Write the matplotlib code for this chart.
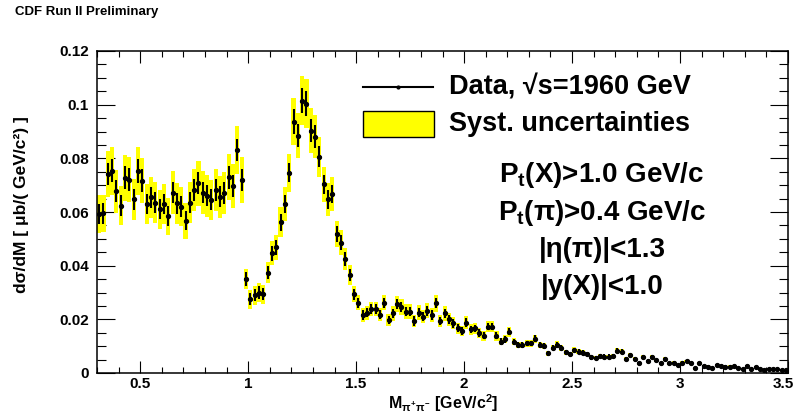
import numpy as np
import matplotlib
matplotlib.use("Agg")
import matplotlib.pyplot as plt
from matplotlib.lines import Line2D
from matplotlib.patches import Rectangle
from matplotlib.transforms import ScaledTranslation

plt.rcParams['font.family'] = ['Liberation Sans', 'DejaVu Sans']
plt.rcParams['font.weight'] = 'bold'
plt.rcParams['mathtext.fontset'] = 'custom'
plt.rcParams['mathtext.rm'] = 'Liberation Sans:bold'
plt.rcParams['mathtext.it'] = 'Liberation Sans:bold'
plt.rcParams['mathtext.bf'] = 'Liberation Sans:bold'
plt.rcParams['mathtext.sf'] = 'Liberation Sans:bold'

# Histogram binning (GeV/c^2)
mass_lo, mass_hi, n_bins = 0.30, 3.50, 160

# d sigma / dM values [ub/(GeV/c^2)]
xsec = [
    # 0.31 - 0.97
    0.0593, 0.0595, 0.0742, 0.0753, 0.0678, 0.0624, 0.0728, 0.0721, 0.0647, 0.0753,
    0.0717, 0.0629, 0.0655, 0.0635, 0.0610, 0.0629, 0.0585, 0.0672, 0.0632, 0.0620,
    0.0567, 0.0635, 0.0682, 0.0707, 0.0672, 0.0661, 0.0645, 0.0682, 0.0657, 0.0670,
    0.0729, 0.0697, 0.0831, 0.0719,
    # 0.99 - 1.65
    0.0350, 0.0275, 0.0290, 0.0300, 0.0293, 0.0374, 0.0446, 0.0468, 0.0562, 0.0630,
    0.0747, 0.0937, 0.0885, 0.1015, 0.1003, 0.0903, 0.0881, 0.0806, 0.0703, 0.0647,
    0.0666, 0.0518, 0.0486, 0.0425, 0.0365, 0.0293, 0.0261, 0.0216, 0.0225, 0.0239,
    0.0238, 0.0218, 0.0262, 0.0197,
    # 1.67 - 2.43
    0.0222, 0.0257, 0.0247, 0.0229, 0.0229, 0.0194, 0.0225, 0.0210, 0.0232, 0.0216,
    0.0260, 0.0194, 0.0222, 0.0200, 0.0185, 0.0166, 0.0158, 0.0188, 0.0163, 0.0166,
    0.0150, 0.0138, 0.0173, 0.0173, 0.0138, 0.0117, 0.0125, 0.0154, 0.0117, 0.0104,
    0.0104, 0.0110, 0.0110, 0.0128, 0.0104, 0.0100, 0.0074, 0.0095, 0.0105,
    # 2.45 - 3.49
    0.0094, 0.0077, 0.0071, 0.0086, 0.0080, 0.0076, 0.0071, 0.0058, 0.0055, 0.0063,
    0.0061, 0.0061, 0.0063, 0.0083, 0.0080, 0.0052, 0.0067, 0.0052, 0.0036, 0.0061,
    0.0045, 0.0061, 0.0048, 0.0036, 0.0052, 0.0036, 0.0039, 0.0030, 0.0039, 0.0045,
    0.0036, 0.0017, 0.0036, 0.0026, 0.0024, 0.0020, 0.0030, 0.0027, 0.0024, 0.0024,
    0.0026, 0.0017, 0.0015, 0.0027, 0.0015, 0.0021, 0.0014, 0.0011, 0.0014, 0.0014,
    0.0014, 0.0011, 0.0011,
]

stat_err = [
    0.0038, 0.0038, 0.0042, 0.0043, 0.0040, 0.0038, 0.0042, 0.0042, 0.0039, 0.0045,
    0.0042, 0.0038, 0.0039, 0.0038, 0.0037, 0.0038, 0.0036, 0.0040, 0.0038, 0.0038,
    0.0035, 0.0038, 0.0040, 0.0041, 0.0040, 0.0039, 0.0039, 0.0040, 0.0039, 0.0040,
    0.0042, 0.0041, 0.0042, 0.0040,
    0.0025, 0.0022, 0.0022, 0.0023, 0.0022, 0.0025, 0.0028, 0.0028, 0.0032, 0.0034,
    0.0037, 0.0045, 0.0042, 0.0047, 0.0047, 0.0043, 0.0042, 0.0040, 0.0036, 0.0034,
    0.0034, 0.0028, 0.0027, 0.0025, 0.0023, 0.0020, 0.0019, 0.0017, 0.0017, 0.0018,
    0.0018, 0.0017, 0.0019, 0.0016,
    0.0018, 0.0019, 0.0019, 0.0018, 0.0018, 0.0017, 0.0018, 0.0017, 0.0018, 0.0017,
    0.0019, 0.0016, 0.0017, 0.0016, 0.0016, 0.0015, 0.0015, 0.0016, 0.0014, 0.0014,
    0.0014, 0.0013, 0.0014, 0.0014, 0.0013, 0.0012, 0.0012, 0.0013, 0.0011, 0.0011,
    0.0011, 0.0011, 0.0011, 0.0012, 0.0010, 0.0010, 0.0009, 0.0010, 0.0010,
    0.0010, 0.0009, 0.0009, 0.0009, 0.0009, 0.0009, 0.0008, 0.0008, 0.0008, 0.0008,
    0.0008, 0.0008, 0.0008, 0.0009, 0.0009, 0.0007, 0.0008, 0.0007, 0.0006, 0.0007,
    0.0006, 0.0007, 0.0006, 0.0006, 0.0006, 0.0005, 0.0005, 0.0005, 0.0005, 0.0005,
    0.0005, 0.0004, 0.0005, 0.0004, 0.0004, 0.0004, 0.0004, 0.0004, 0.0004, 0.0004,
    0.0004, 0.0003, 0.0003, 0.0004, 0.0003, 0.0003, 0.0003, 0.0003, 0.0003, 0.0003,
    0.0003, 0.0003, 0.0003,
]

syst_err = [
    0.0070, 0.0070, 0.0087, 0.0089, 0.0080, 0.0074, 0.0086, 0.0085, 0.0076, 0.0089,
    0.0084, 0.0074, 0.0077, 0.0075, 0.0072, 0.0074, 0.0069, 0.0079, 0.0075, 0.0073,
    0.0067, 0.0075, 0.0080, 0.0083, 0.0079, 0.0078, 0.0076, 0.0080, 0.0078, 0.0079,
    0.0086, 0.0082, 0.0090, 0.0085,
    0.0038, 0.0036, 0.0035, 0.0035, 0.0035, 0.0038, 0.0045, 0.0048, 0.0055, 0.0062,
    0.0071, 0.0088, 0.0084, 0.0092, 0.0091, 0.0083, 0.0081, 0.0075, 0.0066, 0.0062,
    0.0063, 0.0050, 0.0047, 0.0042, 0.0036, 0.0030, 0.0028, 0.0025, 0.0026, 0.0027,
    0.0027, 0.0025, 0.0029, 0.0023,
    0.0027, 0.0031, 0.0030, 0.0027, 0.0027, 0.0023, 0.0027, 0.0025, 0.0028, 0.0026,
    0.0031, 0.0023, 0.0027, 0.0024, 0.0022, 0.0020, 0.0019, 0.0023, 0.0020, 0.0020,
    0.0018, 0.0017, 0.0021, 0.0021, 0.0017, 0.0014, 0.0015, 0.0018, 0.0014, 0.0012,
    0.0012, 0.0013, 0.0013, 0.0015, 0.0012, 0.0012, 0.0009, 0.0011, 0.0013,
    0.0011, 0.0009, 0.0009, 0.0010, 0.0010, 0.0009, 0.0009, 0.0007, 0.0007, 0.0008,
    0.0007, 0.0007, 0.0008, 0.0010, 0.0010, 0.0006, 0.0008, 0.0006, 0.0005, 0.0007,
    0.0005, 0.0007, 0.0006, 0.0005, 0.0006, 0.0005, 0.0005, 0.0004, 0.0005, 0.0005,
    0.0005, 0.0004, 0.0005, 0.0004, 0.0004, 0.0004, 0.0004, 0.0004, 0.0004, 0.0004,
    0.0004, 0.0003, 0.0003, 0.0004, 0.0003, 0.0003, 0.0003, 0.0003, 0.0003, 0.0003,
    0.0003, 0.0003, 0.0003,
]

x_ticks = [0.5, 1.0, 1.5, 2.0, 2.5, 3.0, 3.5]
x_tick_labels = ["0.5", "1", "1.5", "2", "2.5", "3", "3.5"]
y_ticks = [0.0, 0.02, 0.04, 0.06, 0.08, 0.10, 0.12]
y_tick_labels = ["0", "0.02", "0.04", "0.06", "0.08", "0.1", "0.12"]

cut_lines = [r"P$_{\mathbf{t}}$(X)>1.0 GeV/c", r"P$_{\mathbf{t}}$(π)>0.4 GeV/c",
             "|η(π)|<1.3", "|y(X)|<1.0"]

# ---------------------------------------------------------------
edges = np.linspace(mass_lo, mass_hi, n_bins + 1)
centers = 0.5 * (edges[:-1] + edges[1:])
bw = edges[1] - edges[0]
v = np.array(xsec)
se = np.array(stat_err)
sy = np.array(syst_err)
assert len(v) == n_bins and len(se) == n_bins and len(sy) == n_bins

W, H = 796, 417
fig = plt.figure(figsize=(W / 100, H / 100), dpi=100)
L, R, T, B = 97, 788, 51, 373
ax = fig.add_axes([L / W, 1 - B / H, (R - L) / W, (B - T) / H])

ax.bar(centers, 2 * sy, bottom=v - sy, width=bw * 0.95, color="#ffff00",
       edgecolor="none", zorder=2)
ax.errorbar(centers, v, yerr=se, xerr=bw * 0.35, fmt="o", ms=2.8, color="black",
            ecolor="black", elinewidth=1.5, capsize=0, zorder=3)

ax.set_xlim(mass_lo, mass_hi)
ax.set_ylim(0, 0.12)
ax.set_xticks(x_ticks)
ax.set_xticklabels(x_tick_labels)
ax.set_yticks(y_ticks)
ax.set_yticklabels(y_tick_labels)
ax.set_xticks(np.arange(0.3, 3.51, 0.1), minor=True)
ax.set_yticks(np.arange(0, 0.1201, 0.005), minor=True)
ax.tick_params(axis="x", which="major", direction="in", top=True, length=8.6,
               width=0.8, labelsize=11, pad=3)
ax.tick_params(axis="x", which="minor", direction="in", top=True, length=4.3, width=0.8)
ax.tick_params(axis="y", which="major", direction="in", right=True, length=13,
               width=0.8, labelsize=11, pad=6)
ax.tick_params(axis="y", which="minor", direction="in", right=True, length=6.5, width=0.8)
for lab in ax.get_xticklabels() + ax.get_yticklabels():
    lab.set_fontweight("bold")
last = ax.get_xticklabels()[-1]
last.set_transform(last.get_transform() + ScaledTranslation(-5 / 100, 0, fig.dpi_scale_trans))
for s in ax.spines.values():
    s.set_linewidth(1.1)

def fx(px):
    return px / W

def fy(py):
    return 1 - py / H

fig.text(fx(15), fy(12), "CDF Run II Preliminary", fontsize=9.5, fontweight="bold",
         ha="left", va="center")
fig.text(fx(22), fy(205), "dσ/dM [ μb/( GeV/c²) ]",
         fontsize=12.5, fontweight="bold", rotation=90, ha="center", va="center")
fig.text(fx(443), fy(403), r"M$_{\pi^{+}\pi^{-}}$ [GeV/c$^{2}$]",
         fontsize=11.5, fontweight="bold", ha="center", va="center")

# legend
fig.add_artist(Line2D([fx(363), fx(433)], [fy(87), fy(87)], color="black", lw=1.5))
fig.add_artist(Line2D([fx(398)], [fy(87)], color="black", marker="o", ms=2))
fig.text(fx(449), fy(87), "Data, √s=1960 GeV", fontsize=19.5, fontweight="bold",
         ha="left", va="center")
fig.add_artist(Rectangle((fx(363), fy(137)), fx(434) - fx(363), fy(111) - fy(137),
                         facecolor="#ffff00", edgecolor="black", lw=1.0,
                         transform=fig.transFigure))
fig.text(fx(449), fy(124), "Syst. uncertainties", fontsize=19.5, fontweight="bold",
         ha="left", va="center")

for i, t in enumerate(cut_lines):
    fig.text(fx(602), fy(175 + 37.5 * i), t, fontsize=20, fontweight="bold",
             ha="center", va="center")

fig.savefig("out.png", dpi=100)
